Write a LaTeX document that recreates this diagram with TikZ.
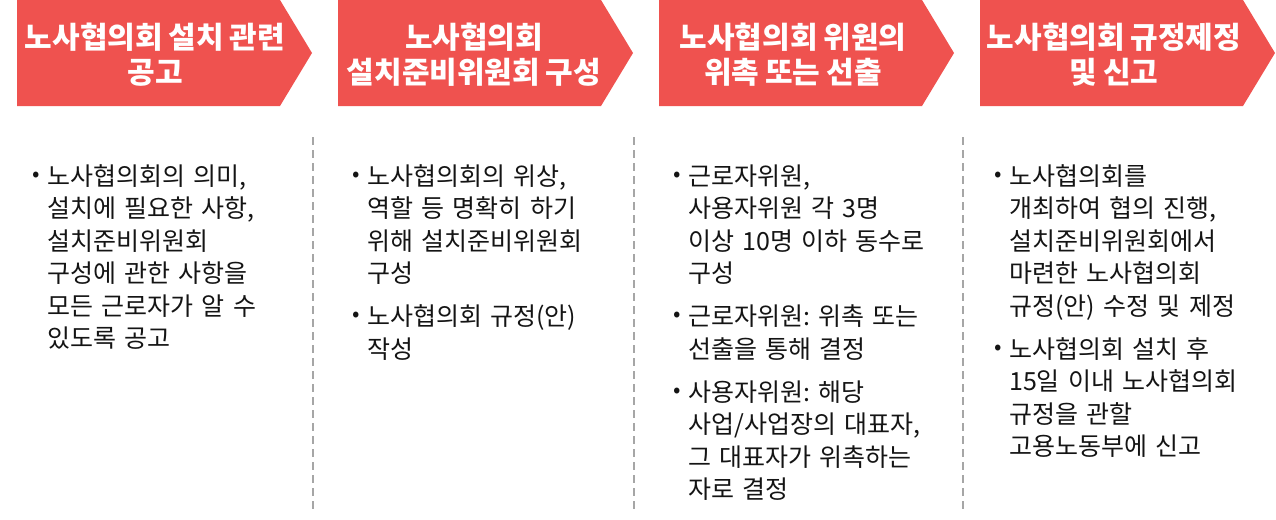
\documentclass[tikz,border=0pt]{standalone}
\usepackage{fontspec}
\setmainfont{Noto Sans CJK KR}[WordSpace=0.85]
\frenchspacing
\definecolor{chev}{RGB}{239,82,79}
\definecolor{sep}{RGB}{166,166,166}
\definecolor{bodytxt}{RGB}{20,20,20}
\newcommand{\bul}{\llap{\raisebox{4pt}{\fontsize{22}{22}\selectfont •}\hspace{7pt}}}
\tikzset{
  chevshape/.style={fill=chev, draw=none},
  titletext/.style={text=white, align=center, inner sep=0pt, font={\fontsize{30}{35}\bfseries\selectfont}},
  bodytext/.style={text=bodytxt, anchor=base west, inner sep=0pt, text width=300pt, align=left, font={\fontsize{25}{32.5}\selectfont}},
  sepline/.style={draw=sep, line width=1.4pt, dash pattern=on 8pt off 5pt}
}
\begin{document}
\begin{tikzpicture}[x=1pt,y=-1pt]
\useasboundingbox (0,0) rectangle (1276,519);
% chevrons
\fill[chevshape] (17,0) -- (280,0) -- (312,53) -- (280,106) -- (17,106) -- cycle;
\fill[chevshape] (338,0) -- (601,0) -- (633,53) -- (601,106) -- (338,106) -- cycle;
\fill[chevshape] (659,0) -- (922,0) -- (954,53) -- (922,106) -- (659,106) -- cycle;
\fill[chevshape] (980,0) -- (1243,0) -- (1275,53) -- (1243,106) -- (980,106) -- cycle;
% titles
\node[titletext] (t1) at (155,55) {노사협의회 설치 관련\\공고};
\node[titletext] (t2) at (474,55) {노사협의회\\설치준비위원회 구성};
\node[titletext] (t3) at (793,55) {노사협의회 위원의\\위촉 또는 선출};
\node[titletext] (t4) at (1114,55) {노사협의회 규정제정\\및 신고};
% separators
\draw[sepline] (313,137) -- (313,510);
\draw[sepline] (634,137) -- (634,510);
\draw[sepline] (963,137) -- (963,510);
% column 1
\node[bodytext] (c1a) at (47,185) {\bul 노사협의회의 의미,\\설치에 필요한 사항,\\설치준비위원회\\구성에 관한 사항을\\모든 근로자가 알 수\\있도록 공고};
% column 2
\node[bodytext] (c2a) at (367,185) {\bul 노사협의회의 위상,\\역할 등 명확히 하기\\위해 설치준비위원회\\구성};
\node[bodytext] (c2b) at (367,325.5) {\bul 노사협의회 규정(안)\\작성};
% column 3
\node[bodytext] (c3a) at (688,185) {\bul 근로자위원,\\사용자위원 각 3명\\이상 10명 이하 동수로\\구성};
\node[bodytext] (c3b) at (688,325.5) {\bul 근로자위원: 위촉 또는\\선출을 통해 결정};
\node[bodytext] (c3c) at (688,401) {\bul 사용자위원: 해당\\사업/사업장의 대표자,\\그 대표자가 위촉하는\\자로 결정};
% column 4
\node[bodytext] (c4a) at (1009,185) {\bul 노사협의회를\\개최하여 협의 진행,\\설치준비위원회에서\\마련한 노사협의회\\규정(안) 수정 및 제정};
\node[bodytext] (c4b) at (1009,358) {\bul 노사협의회 설치 후\\15일 이내 노사협의회\\규정을 관할\\고용노동부에 신고};
\end{tikzpicture}
\end{document}
